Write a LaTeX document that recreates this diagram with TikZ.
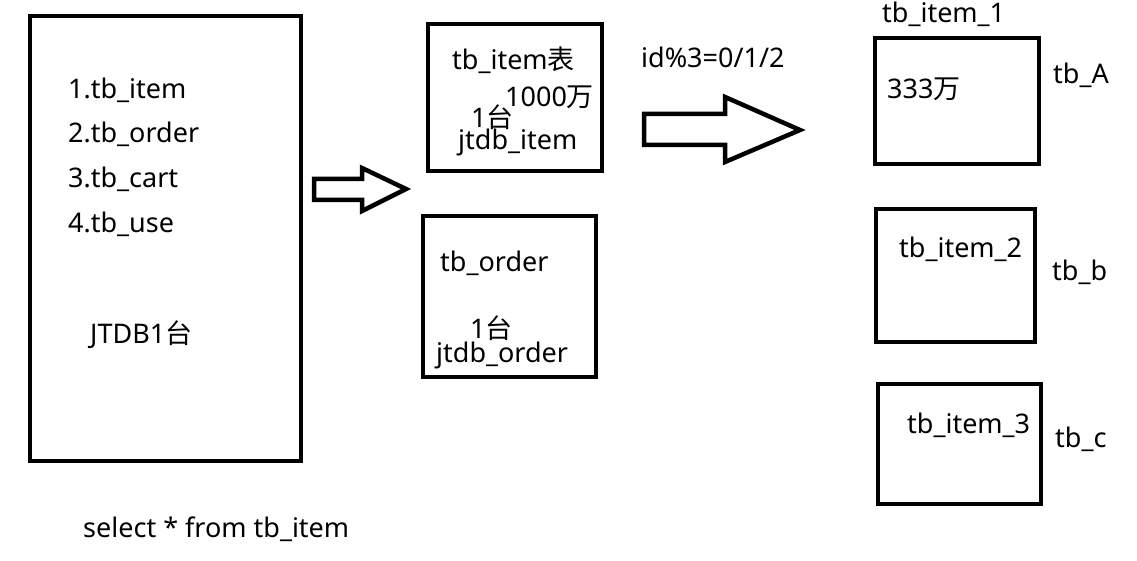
\documentclass[tikz,border=0pt]{standalone}
\usepackage{fontspec}
\setmainfont{Noto Sans}
\newfontfamily\cjk{Noto Sans CJK SC}
\tikzset{
  box/.style={draw, line width=4.5pt, inner sep=0pt},
  txt/.style={anchor=base west, inner sep=0pt, font=\fontsize{27}{32}\selectfont},
  fatarrow/.style={draw, line width=4.5pt, line join=miter},
}
\begin{document}
\begin{tikzpicture}[x=1pt, y=-1pt]
\useasboundingbox (0,0) rectangle (1137,561);
% the single database
\node[box, minimum width=271, minimum height=445] (jtdb) at (165.5,238.5) {};
\node[txt] (t1) at (68,99) {1.tb\_item};
\node[txt] (t2) at (68,143) {2.tb\_order};
\node[txt] (t3) at (68,188) {3.tb\_cart};
\node[txt] (t4) at (68,233) {4.tb\_use};
\node[txt] (jtdblbl) at (90,343) {JTDB1{\cjk 台}};
\node[txt] (sql) at (83,537) {select * from tb\_item};
% split by table
\coordinate (P) at (314,179);
\coordinate (R) at (406,189);
\draw[fatarrow] (P) -- (362,179) -- (362,168) -- (R) -- (362,211) -- (362,200) -- (314,200) -- cycle;
\node[box, minimum width=174, minimum height=147] (item) at (515,97.5) {};
\node[txt] (itemlbl) at (452,70) {tb\_item{\cjk 表}};
\node[txt] (itemcnt) at (505,107) {1000{\cjk 万}};
\node[txt] (itemhost) at (471,128) {1{\cjk 台}};
\node[txt] (itemdb) at (458,150) {jtdb\_item};
\node[box, minimum width=173, minimum height=161] (order) at (509.5,296.5) {};
\node[txt] (orderlbl) at (440,272) {tb\_order};
\node[txt] (orderhost) at (470,338) {1{\cjk 台}};
\node[txt] (orderdb) at (436,362) {jtdb\_order};
% split by rows
\coordinate (Q) at (644,114);
\coordinate (S) at (800,130);
\draw[fatarrow] (Q) -- (725,114) -- (725,97) -- (S) -- (725,162) -- (725,145) -- (644,145) -- cycle;
\node[txt] (rule) at (641,68) {id\%3=0/1/2};
\node[box, minimum width=164, minimum height=126] (itemA) at (957,101) {};
\node[txt] (nameA) at (882,23) {tb\_item\_1};
\node[txt] (cntA) at (887,99) {333{\cjk 万}};
\node[txt] (tblA) at (1053,84) {tb\_A};
\node[box, minimum width=159, minimum height=133] (itemB) at (955.5,275.5) {};
\node[txt] (nameB) at (899,258) {tb\_item\_2};
\node[txt] (tblB) at (1052,280) {tb\_b};
\node[box, minimum width=163, minimum height=120] (itemC) at (959.5,444) {};
\node[txt] (nameC) at (907,433) {tb\_item\_3};
\node[txt] (tblC) at (1055,447) {tb\_c};
\end{tikzpicture}
\end{document}
